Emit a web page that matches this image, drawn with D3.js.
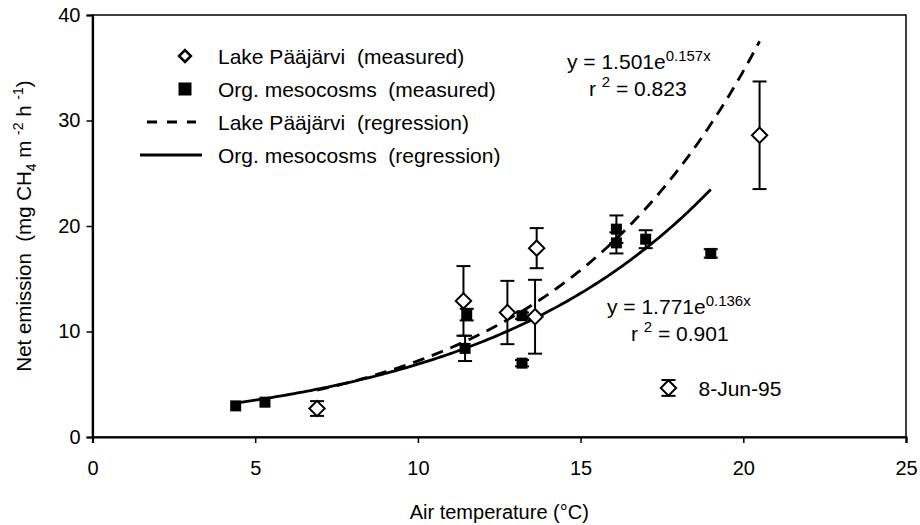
<!DOCTYPE html>
<html>
<head>
<meta charset="utf-8">
<script src="https://cdn.jsdelivr.net/npm/d3@7"></script>
<style>
  body { margin: 0; background: #fff; }
  text { font-family: "Liberation Sans", Arial, sans-serif; fill: #000; white-space: pre; }
</style>
</head>
<body>
<svg id="chart" width="920" height="525"></svg>
<script>
// Lake Pääjärvi (measured): temperature, emission, error
const lakeTemp = [6.9, 11.4, 12.75, 13.6, 13.65, 20.5];
const lakeEmis = [2.7, 12.9, 11.8, 11.4, 17.9, 28.6];
const lakeErr  = [0.7, 3.3, 3.0, 3.5, 1.9, 5.1];

// Org. mesocosms (measured)
const mesoTemp = [4.4, 5.3, 11.45, 11.5, 13.2, 13.2, 16.1, 16.1, 17.0, 19.0];
const mesoEmis = [2.95, 3.3, 8.4, 11.6, 11.5, 7.0, 19.7, 18.4, 18.75, 17.4];
const mesoErr  = [0, 0, 1.2, 0.55, 0.3, 0.3, 1.3, 1.0, 0.85, 0.4];

// regressions y = a*e^(b*x), over the measured temperature range
const lakeFit = { a: 1.501, b: 0.157, r2: 0.823, from: 6.9, to: 20.5 };
const mesoFit = { a: 1.771, b: 0.136, r2: 0.901, from: 4.4, to: 19.0 };

const xTicks = [0, 5, 10, 15, 20, 25];
const yTicks = [0, 10, 20, 30, 40];

const legendItems = [
  { label: "Lake Pääjärvi  (measured)", kind: "diamond" },
  { label: "Org. mesocosms  (measured)", kind: "square" },
  { label: "Lake Pääjärvi  (regression)", kind: "dashed" },
  { label: "Org. mesocosms  (regression)", kind: "solid" }
];

const svg = d3.select("#chart");
const x = d3.scaleLinear().domain([0, 25]).range([92.5, 906]);
const y = d3.scaleLinear().domain([0, 40]).range([437, 15]);

// frame
svg.append("rect")
  .attr("x", x(0)).attr("y", y(40))
  .attr("width", x(25) - x(0)).attr("height", y(0) - y(40))
  .attr("fill", "none").attr("stroke", "#000").attr("stroke-width", 1.5);

// axes
const xAxis = svg.append("g")
  .attr("transform", `translate(0,${y(0)})`)
  .call(d3.axisBottom(x).tickValues(xTicks).tickSize(6).tickPadding(18).tickFormat(d3.format("d")));
const yAxis = svg.append("g")
  .attr("transform", `translate(${x(0)},0)`)
  .call(d3.axisLeft(y).tickValues(yTicks).tickSize(6).tickPadding(6).tickFormat(d3.format("d")));
[xAxis, yAxis].forEach(a => {
  a.select(".domain").attr("stroke-width", 2.2);
  a.selectAll(".tick line").attr("stroke-width", 1.5);
  a.selectAll(".tick text").style("font-size", "20px").style("font-family", "Liberation Sans, Arial, sans-serif");
});

// axis titles
svg.append("text")
  .attr("x", (x(0) + x(25)) / 2)
  .attr("y", 519)
  .attr("text-anchor", "middle")
  .style("font-size", "20px")
  .text("Air temperature (°C)");

const yt = svg.append("text")
  .attr("transform", `translate(31,${(y(0) + y(40)) / 2}) rotate(-90)`)
  .attr("text-anchor", "middle")
  .style("font-size", "20.5px");
yt.append("tspan").text("Net emission  (mg CH");
yt.append("tspan").attr("dy", 5).style("font-size", "14px").text("4");
yt.append("tspan").attr("dy", -5).text(" m ");
yt.append("tspan").attr("dy", -8).style("font-size", "14px").text("-2");
yt.append("tspan").attr("dy", 8).text(" h ");
yt.append("tspan").attr("dy", -8).style("font-size", "14px").text("-1");
yt.append("tspan").attr("dy", 8).text(")");

// regression curves
function fitPoints(f) {
  return d3.range(f.from, f.to + 0.001, 0.1).map(t => [t, f.a * Math.exp(f.b * t)]);
}
const curve = d3.line().x(d => x(d[0])).y(d => y(d[1]));

svg.append("path")
  .attr("d", curve(fitPoints(mesoFit)))
  .attr("fill", "none").attr("stroke", "#000").attr("stroke-width", 2.8);
svg.append("path")
  .attr("d", curve(fitPoints(lakeFit)))
  .attr("fill", "none").attr("stroke", "#000").attr("stroke-width", 2.8)
  .attr("stroke-dasharray", "12,8");

// error bars
function errorBars(temps, vals, errs, cap) {
  const g = svg.append("g").attr("stroke", "#000").attr("stroke-width", 2);
  temps.forEach((t, i) => {
    if (!errs[i]) return;
    const cx = x(t), y0 = y(vals[i] - errs[i]), y1 = y(vals[i] + errs[i]);
    g.append("line").attr("x1", cx).attr("x2", cx).attr("y1", y0).attr("y2", y1);
    g.append("line").attr("x1", cx - cap).attr("x2", cx + cap).attr("y1", y0).attr("y2", y0);
    g.append("line").attr("x1", cx - cap).attr("x2", cx + cap).attr("y1", y1).attr("y2", y1);
  });
}
errorBars(mesoTemp, mesoEmis, mesoErr, 7);
errorBars(lakeTemp, lakeEmis, lakeErr, 7);

// markers
const diamond = d3.symbol().type(d3.symbolDiamond2).size(150);
svg.append("g").selectAll("rect")
  .data(mesoTemp.map((t, i) => [t, mesoEmis[i]]))
  .join("rect")
  .attr("x", d => x(d[0]) - 5.5).attr("y", d => y(d[1]) - 5.5)
  .attr("width", 11).attr("height", 11)
  .attr("fill", "#000");

svg.append("g").selectAll("path")
  .data(lakeTemp.map((t, i) => [t, lakeEmis[i]]))
  .join("path")
  .attr("d", diamond)
  .attr("transform", d => `translate(${x(d[0])},${y(d[1])})`)
  .attr("fill", "#fff").attr("stroke", "#000").attr("stroke-width", 2);

// legend
const legend = svg.append("g");
legendItems.forEach((d, i) => {
  const row = legend.append("g").attr("transform", `translate(0,${56 + i * 33})`);
  if (d.kind === "diamond") {
    row.append("path").attr("d", d3.symbol().type(d3.symbolDiamond2).size(90)())
      .attr("transform", "translate(185,0)")
      .attr("fill", "#fff").attr("stroke", "#000").attr("stroke-width", 2.5);
  } else if (d.kind === "square") {
    row.append("rect").attr("x", 178.5).attr("y", -6.5).attr("width", 13).attr("height", 13).attr("fill", "#000");
  } else {
    row.append("line").attr("x1", d.kind === "dashed" ? 147 : 140).attr("x2", d.kind === "dashed" ? 196 : 202)
      .attr("stroke", "#000").attr("stroke-width", 2.8)
      .attr("stroke-dasharray", d.kind === "dashed" ? "10,10" : null);
  }
  row.append("text").attr("x", 218).attr("y", 7.5).style("font-size", "21px").text(d.label);
});

// equations
function equation(x0, y0, fit, rx) {
  const t = svg.append("text").attr("x", x0).attr("y", y0).style("font-size", "21px");
  t.append("tspan").text(`y = ${fit.a.toFixed(3)}e`);
  t.append("tspan").attr("dy", -8).style("font-size", "15px").text(`${fit.b.toFixed(3)}x`);
  const r = svg.append("text").attr("x", rx).attr("y", y0 + 27).style("font-size", "21px");
  r.append("tspan").text("r ");
  r.append("tspan").attr("dy", -9).style("font-size", "15px").text("2");
  r.append("tspan").attr("dy", 9).text(` = ${fit.r2.toFixed(3)}`);
}
equation(567, 69, lakeFit, 589);
equation(607, 314, mesoFit, 631);

// 8-Jun-95 annotation: diamond with small error bar
const noteT = [17.7], noteE = [4.65], noteErr = [0.75];
errorBars(noteT, noteE, noteErr, 7);
svg.append("path").attr("d", diamond)
  .attr("transform", `translate(${x(noteT[0])},${y(noteE[0])})`)
  .attr("fill", "#fff").attr("stroke", "#000").attr("stroke-width", 2);
svg.append("text").attr("x", x(noteT[0]) + 30).attr("y", y(noteE[0]) + 8)
  .style("font-size", "21px").text("8-Jun-95");
</script>
</body>
</html>
